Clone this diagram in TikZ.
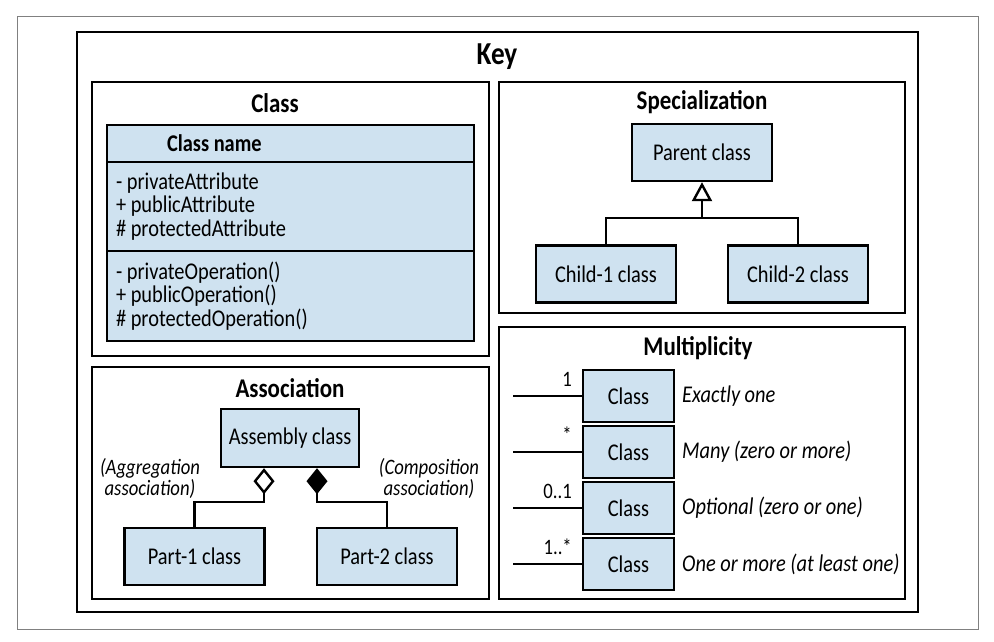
\documentclass[tikz,border=0pt]{standalone}
\usepackage{fontspec}
\setmainfont{Carlito}[FakeStretch=0.85]
\usetikzlibrary{arrows.meta, positioning}
\definecolor{boxblue}{RGB}{207,226,240}
\tikzset{
  frame/.style={draw, line width=2.7pt},
  cls/.style={draw, line width=2.4pt, fill=boxblue, minimum width=140pt, minimum height=57pt,
    inner sep=0pt, font=\fontsize{24}{26}\selectfont},
  heading/.style={font=\fontsize{27}{30}\selectfont\bfseries},
  conn/.style={line width=2.4pt},
  note/.style={font=\fontsize{22}{21}\selectfont\itshape, align=center},
  body/.style={font=\fontsize{24}{23.5}\selectfont, align=left, inner sep=0pt}
}

\begin{document}
\begin{tikzpicture}[x=1pt, y=-1pt]
  \useasboundingbox (0,0) rectangle (994,642);
  \draw[gray, line width=1pt] (17,17) rectangle (978,629);

  % key frame and panels
  \draw[frame] (77,32) rectangle (918,612);
  \node[font=\fontsize{32}{36}\selectfont\bfseries] (key) at (497,57) {Key};
  \draw[frame] (92,82) rectangle (489,356);
  \draw[frame] (499,82) rectangle (905,313);
  \draw[frame] (92,367) rectangle (489,599);
  \draw[frame] (499,327) rectangle (905,599);

  \node[heading] (classtitle) at (275,103) {Class};
  \node[heading] (spectitle) at (702,102) {Specialization};
  \node[heading] (assoctitle) at (290,388) {Association};
  \node[heading] (multtitle) at (698,348) {Multiplicity};

  % class
  \node[cls, minimum width=367pt, minimum height=37pt] (cname) at (290.5,143.5) {};
  \node[cls, minimum width=367pt, minimum height=89pt] (cattr) at (290.5,206.5) {};
  \node[cls, minimum width=367pt, minimum height=90pt] (cops) at (290.5,296) {};
  \node[anchor=west, inner sep=0pt, font=\fontsize{24}{26}\selectfont\bfseries]
    (cnametext) at ([xshift=61pt]cname.west) {Class name};
  \node[body, anchor=west] (cattrtext) at ([xshift=10pt]cattr.west)
    {- privateAttribute\\+ publicAttribute\\\# protectedAttribute};
  \node[body, anchor=west] (copstext) at ([xshift=10pt]cops.west)
    {- privateOperation()\\+ publicOperation()\\\# protectedOperation()};

  % specialization
  \node[cls] (parent) at (702,152.5) {Parent class};
  \node[cls] (child1) at (606,274) {Child-1 class};
  \node[cls] (child2) at (798,274) {Child-2 class};
  \coordinate (spjoin) at (702,218);
  \draw[conn] (child1.north) |- (spjoin) -| (child2.north);
  \draw[conn, -{Triangle[open, length=19pt, width=20pt]}] (spjoin) -- (parent.south);

  % association
  \node[cls, minimum width=138pt, minimum height=58pt] (assembly) at (290,438) {Assembly class};
  \node[cls] (part1) at (194.5,556.5) {Part-1 class};
  \node[cls] (part2) at (387,556.5) {Part-2 class};
  \draw[conn, {Diamond[open, length=26pt, width=21pt]}-]
    ([xshift=-26pt]assembly.south) -- ++(0,34) -| (part1.north);
  \draw[conn, {Diamond[length=26pt, width=21pt]}-]
    ([xshift=27pt]assembly.south) -- ++(0,34) -| (part2.north);
  \node[note] (agglabel) at (150,478) {(Aggregation\\association)};
  \node[note] (complabel) at (429,478) {(Composition\\association)};

  % multiplicity
  \foreach[count=\i] \lab/\desc in {1/Exactly one, */Many (zero or more),
      0..1/Optional (zero or one), 1..*/One or more (at least one)}
  {
    \node[cls, minimum width=91pt, minimum height=52pt] (mult\i) at (628.5,340+56*\i) {Class};
    \coordinate (multend\i) at (513,340+56*\i);
    \draw[conn] (multend\i) -- (mult\i.west);
    \node[anchor=base east, inner sep=0pt, font=\fontsize{22}{24}\selectfont]
      (multlab\i) at (572,330+56*\i) {\lab};
    \node[anchor=west, inner sep=0pt, font=\fontsize{24}{26}\selectfont\itshape]
      (multdesc\i) at (682,340+56*\i) {\desc};
  }
\end{tikzpicture}
\end{document}
